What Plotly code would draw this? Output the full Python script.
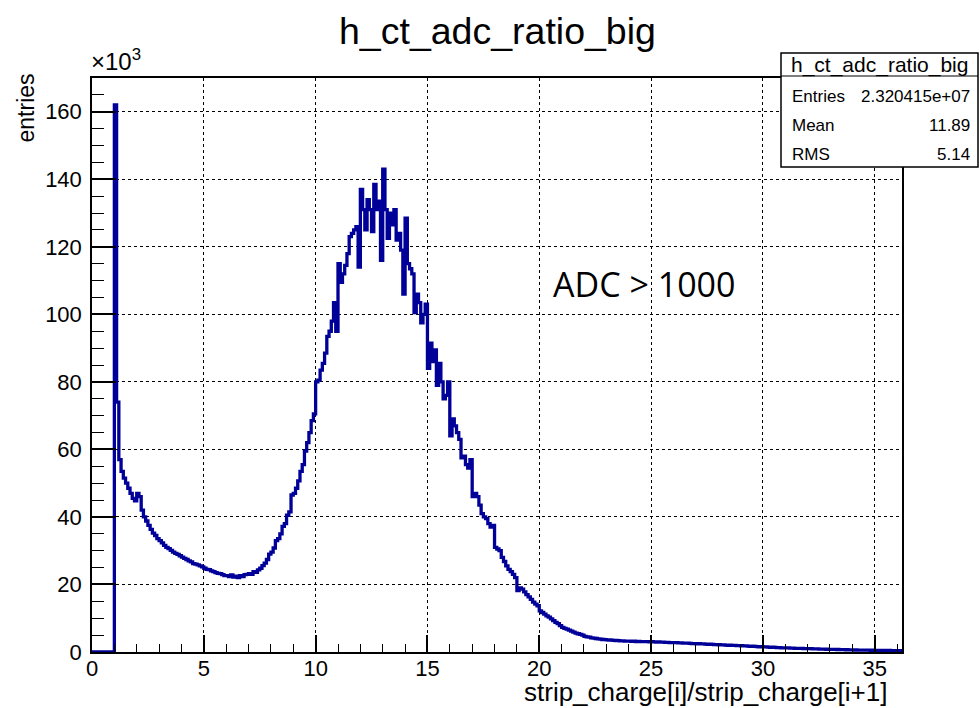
import numpy as np
import plotly.graph_objects as go

# Histogram h_ct_adc_ratio_big, bin width 0.1, counts in units of 10^3
bin_width = 0.1
counts_0_10 = [
    0, 0, 0, 0, 0, 0, 0, 0, 0, 0,
    162, 74, 57, 53.5, 51.5, 50, 48.5, 47, 45.5, 44.8,
    47, 46, 42, 40, 38.8, 37.5, 36.3, 35.2, 34.5, 33.6,
    33, 32.3, 31.6, 31, 30.6, 30.1, 29.6, 29.2, 28.9, 28.5,
    28.1, 27.7, 27.4, 27.0, 26.7, 26.2, 26.0, 25.8, 25.5, 25.2,
    24.8, 24.5, 24.4, 24.0, 23.8, 23.5, 23.3, 23.2, 22.9, 22.6,
    22.6, 22.3, 22.8, 22.2, 22.5, 22.0, 22.6, 22.3, 22.9, 23.0,
    23.2, 23.0, 23.8, 23.6, 24.3, 24.8, 25.6, 26.3, 27.4, 29.0,
    29.6, 30.8, 33.0, 33.6, 35.0, 37.2, 38.0, 40.5, 41.5, 46.5,
    47.0, 48.5, 50.7, 53.5, 55.5, 59.5, 62.0, 65.0, 68.5, 70.5,
]
counts_10_20 = [
    80.0, 80.5, 83.5, 85.5, 88.5, 93.5, 95.0, 98.0, 103.5, 95.0,
    115, 109.5, 112, 114.5, 118, 123, 124, 125, 126, 114,
    137, 131, 125, 134, 131, 124.5, 138.5, 131, 133.5, 116,
    143, 131, 122.5, 130, 126.5, 131, 122, 124, 119, 106,
    128.5, 115, 113.5, 112, 100.5, 106, 103.5, 97.5, 100, 103,
    84, 91.5, 86, 89.5, 79, 85.5, 80, 75, 76, 80,
    64, 69, 67, 65, 63, 57.5, 58, 55.5, 54.5, 57,
    46, 47, 46, 43.5, 41, 40, 39.5, 38, 37, 37.5,
    31, 30.5, 30, 28, 26.8, 25.5, 24.5, 23.8, 23, 22,
    18.2, 19.0, 18.6, 17.8, 17.0, 16.3, 15.6, 14.8, 14.2, 13.7,
]
counts_20_37 = [
    12.2, 11.7, 11.2, 10.7, 10.3, 9.8, 9.3, 8.8, 8.4, 7.8,
    7.3, 7.0, 6.8, 6.5, 6.2, 5.9, 5.6, 5.4, 5.2, 5.0,
    4.6, 4.5, 4.4, 4.2, 4.1, 4.0, 3.9, 3.8, 3.7, 3.65,
    3.6, 3.55, 3.5, 3.45, 3.4, 3.35, 3.3, 3.3, 3.25, 3.2,
    3.2, 3.15, 3.2, 3.1, 3.15, 3.1, 3.05, 3.1, 3.05, 3.0,
    3.05, 3.0, 2.95, 3.0, 2.9, 2.9, 2.85, 2.85, 2.8, 2.8,
    2.75, 2.75, 2.7, 2.7, 2.65, 2.6, 2.6, 2.55, 2.5, 2.5,
    2.45, 2.45, 2.4, 2.4, 2.35, 2.3, 2.3, 2.25, 2.2, 2.2,
    2.15, 2.1, 2.1, 2.05, 2.0, 2.0, 1.95, 1.95, 1.9, 1.9,
    1.85, 1.8, 1.8, 1.75, 1.7, 1.7, 1.65, 1.6, 1.55, 1.55,
    1.5, 1.5, 1.45, 1.4, 1.4, 1.35, 1.3, 1.3, 1.25, 1.25,
    1.2, 1.2, 1.15, 1.15, 1.1, 1.1, 1.05, 1.05, 1.0, 1.0,
    1.0, 0.98, 0.95, 0.93, 0.9, 0.88, 0.86, 0.84, 0.82, 0.8,
    0.8, 0.78, 0.76, 0.74, 0.72, 0.7, 0.68, 0.66, 0.64, 0.62,
    0.6, 0.59, 0.58, 0.57, 0.56, 0.55, 0.54, 0.53, 0.52, 0.51,
    0.5, 0.49, 0.48, 0.47, 0.46, 0.45, 0.44, 0.43, 0.42, 0.41,
    0.4, 0.4, 0.4,
]

stats_labels = ["Entries", "Mean", "RMS"]
stats_values = ["2.320415e+07", "11.89", "5.14"]
hist_name = "h_ct_adc_ratio_big"

counts = np.array(counts_0_10 + counts_10_20 + counts_20_37)
edges = np.arange(len(counts) + 1) * bin_width
xs = edges
ys = np.append(counts, counts[-1])

NAVY = "#000099"
FONT = "Liberation Sans, Arial, Helvetica, sans-serif"

fig = go.Figure()
fig.add_trace(go.Scatter(
    x=xs, y=ys, mode="lines", line=dict(shape="hv", color=NAVY, width=3.3),
    hoverinfo="skip", showlegend=False,
))

axis_common = dict(
    showline=True, linecolor="black", linewidth=1.5, mirror=True,
    ticks="inside", tickcolor="black", tickwidth=1.5,
    showgrid=True, gridcolor="black", gridwidth=1, griddash="dot",
    zeroline=False, tickfont=dict(family=FONT, size=22, color="black"),
)

fig.update_xaxes(
    range=[0, 36.22], tick0=0, dtick=5, ticklen=17,
    minor=dict(dtick=1, ticklen=8, ticks="inside", tickcolor="black", tickwidth=1.2, showgrid=False),
    ticklabelstandoff=-4,
    **axis_common,
)
fig.update_yaxes(
    range=[0, 170], tick0=0, dtick=20, ticklen=24,
    minor=dict(dtick=5, ticklen=12, ticks="inside", tickcolor="black", tickwidth=1.2, showgrid=False),
    ticklabelstandoff=4,
    **axis_common,
)

L, R, T, B = 92, 78, 78, 56
W, H = 980, 708
pw, ph = W - L - R, H - T - B

def px_x(p):
    return (p - L) / pw

def px_y(p):
    return (H - B - p) / ph

annotations = []
# title
annotations.append(dict(text=hist_name, xref="paper", yref="paper",
                        x=px_x(497), y=px_y(31), xanchor="center", yanchor="middle",
                        showarrow=False, font=dict(family=FONT, size=37.5, color="black")))
# x10^3
annotations.append(dict(text="×10<sup>3</sup>", xref="paper", yref="paper",
                        x=px_x(89), y=px_y(77), xanchor="left", yanchor="bottom",
                        showarrow=False, font=dict(family=FONT, size=24, color="black")))
# y title
annotations.append(dict(text="entries", xref="paper", yref="paper", textangle=-90,
                        x=px_x(25), y=px_y(72), xanchor="center", yanchor="top",
                        showarrow=False, font=dict(family=FONT, size=23, color="black")))
# x title
annotations.append(dict(text="strip_charge[i]/strip_charge[i+1]", xref="paper", yref="paper",
                        x=px_x(889), y=px_y(692), xanchor="right", yanchor="middle",
                        showarrow=False, font=dict(family=FONT, size=26, color="black")))
# ADC label
annotations.append(dict(text="ADC > 1000", xref="paper", yref="paper",
                        x=px_x(551), y=px_y(284), xanchor="left", yanchor="middle",
                        showarrow=False, font=dict(family="Open Sans, sans-serif", size=34, color="black")))

# stats box
bx0, bx1, by0, by1, bsep = 781, 978, 53, 167, 76
shapes = [
    dict(type="rect", xref="paper", yref="paper", x0=px_x(bx0), x1=px_x(bx1),
         y0=px_y(by1), y1=px_y(by0), line=dict(color="black", width=1.5),
         fillcolor="white", layer="above"),
    dict(type="line", xref="paper", yref="paper", x0=px_x(bx0), x1=px_x(bx1),
         y0=px_y(bsep), y1=px_y(bsep), line=dict(color="black", width=1.2), layer="above"),
]
annotations.append(dict(text=hist_name, xref="paper", yref="paper",
                        x=px_x((bx0 + bx1) / 2), y=px_y(65), xanchor="center", yanchor="middle",
                        showarrow=False, font=dict(family=FONT, size=21, color="black")))
row_y = [97, 125, 154]
for lab, val, yy in zip(stats_labels, stats_values, row_y):
    annotations.append(dict(text=lab, xref="paper", yref="paper", x=px_x(790), y=px_y(yy),
                            xanchor="left", yanchor="middle", showarrow=False,
                            font=dict(family=FONT, size=17, color="black")))
    annotations.append(dict(text=val, xref="paper", yref="paper", x=px_x(972), y=px_y(yy),
                            xanchor="right", yanchor="middle", showarrow=False,
                            font=dict(family=FONT, size=17, color="black")))

fig.update_layout(
    width=W, height=H, margin=dict(l=L, r=R, t=T, b=B),
    paper_bgcolor="white", plot_bgcolor="white",
    shapes=shapes, annotations=annotations, showlegend=False,
)

fig.write_html("out.html")
